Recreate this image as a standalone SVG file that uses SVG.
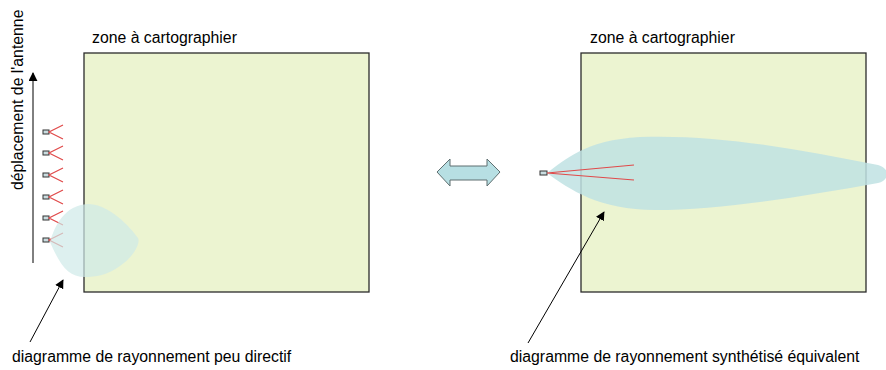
<svg xmlns="http://www.w3.org/2000/svg" width="886" height="370" viewBox="0 0 886 370">
<style>
text{font-family:"Liberation Sans",Arial,sans-serif;font-size:15.8px;fill:#000}
.zone{fill:#ecf4d1;stroke:#2b2b2b;stroke-width:1.3}
.ant{fill:#c9dde0;stroke:#333;stroke-width:1}
.ray{stroke:#e04a4a;stroke-width:1.2;fill:none}
.ptr{stroke:#000;stroke-width:1;fill:none;marker-end:url(#ah)}
</style>
<defs>
<marker id="ah" viewBox="0 0 10 10" refX="9" refY="5" markerWidth="9" markerHeight="9" markerUnits="userSpaceOnUse" orient="auto">
<path d="M0,0 L10,5 L0,10 Z" fill="#000"/>
</marker>
</defs>

<g id="zone-left">
<rect class="zone" x="84" y="53" width="285" height="239"/>
<text x="92" y="43">zone à cartographier</text>
</g>

<g id="zone-right">
<rect class="zone" x="581" y="53" width="285" height="239"/>
<text x="590" y="43">zone à cartographier</text>
</g>

<g id="antennes-gauche">
<g>
<rect class="ant" x="43" y="130" width="6" height="4"/>
<path class="ray" d="M63,125 L49,132 L63,139"/>
</g>
<g>
<rect class="ant" x="43" y="151" width="6" height="4"/>
<path class="ray" d="M63,146 L49,153 L63,160"/>
</g>
<g>
<rect class="ant" x="43" y="173" width="6" height="4"/>
<path class="ray" d="M63,168 L49,175 L63,182"/>
</g>
<g>
<rect class="ant" x="43" y="195" width="6" height="4"/>
<path class="ray" d="M63,190 L49,197 L63,204"/>
</g>
<g>
<rect class="ant" x="43" y="216" width="6" height="4"/>
<path class="ray" d="M63,211 L49,218 L63,225"/>
</g>
<g>
<rect class="ant" x="43" y="238" width="6" height="4"/>
<path class="ray" d="M63,233 L49,240 L63,247"/>
</g>
</g>

<g id="lobe-gauche">
<path d="M50,242 C55,225 65,205 88,204 C105,204 125,220 138,238 C141,244 132,258 120,266 C108,275 95,277 85,277 C68,277 60,265 50,242 Z" fill="#cfe9e8" opacity="0.7"/>
</g>

<g id="lobe-droite">
<path d="M547,173 C565,160 585,140 640,137 C720,134 800,150 878,165 C890,168 890,180 878,183 C800,197 720,210 655,210 C600,210 570,190 547,173 Z" fill="#bfe2e3" opacity="0.85"/>
<rect class="ant" x="540" y="171" width="7" height="4"/>
<path class="ray" d="M634,165 L547,173 L634,180"/>
</g>

<g id="double-fleche">
<polygon points="437,172 450,159 450,166 487,166 487,159 500,172 487,186 487,180 450,180 450,186" fill="#b7dfe3" stroke="#5f6f70" stroke-width="1"/>
</g>

<g id="deplacement">
<text transform="translate(23,190) rotate(-90)" x="0" y="0">déplacement de l'antenne</text>
</g>

<g id="labels">
<text x="12" y="362">diagramme de rayonnement peu directif</text>
<text x="510" y="362">diagramme de rayonnement synthétisé équivalent</text>
</g>

<g id="connecteurs">
<line class="ptr" x1="33" y1="263" x2="33" y2="73"/>
<line class="ptr" x1="30" y1="342" x2="63" y2="280"/>
<line class="ptr" x1="528" y1="343" x2="604" y2="212"/>
</g>
</svg>
